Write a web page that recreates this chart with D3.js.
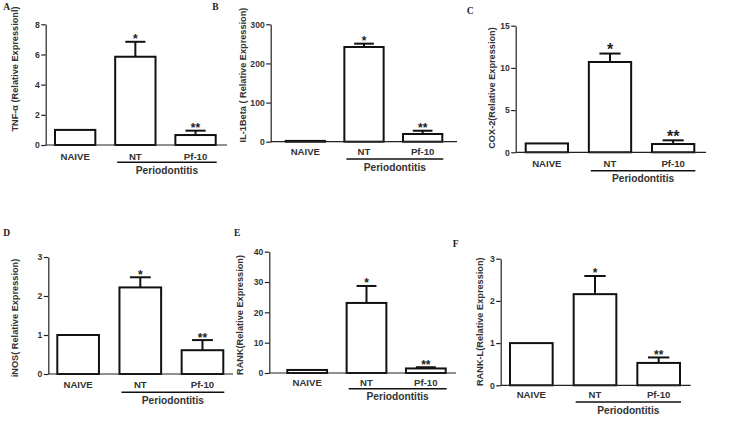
<!DOCTYPE html>
<html>
<head>
<meta charset="utf-8">
<script src="https://cdn.jsdelivr.net/npm/d3@7"></script>
<style>
  html, body { margin: 0; padding: 0; background: #fff; }
  svg { display: block; }
</style>
</head>
<body>
<svg id="chart" width="734" height="424"></svg>
<script>
// ---------- DATA ----------
const categories = ["NAIVE", "NT", "Pf-10"];
const groupLabel = "Periodontitis";
const panelLetters = ["A", "B", "C", "D", "E", "F"];
const yTitles = [
  "TNF-\u03B1 (Relative Expressionl)",
  "IL-1Beta ( Relative Expression)",
  "COX-2(Relative Expression)",
  "iNOS( Relative Expression)",
  "RANK(Relative Expression)",
  "RANK-L(Relative Expression)"
];
const yMaxes = [8, 300, 15, 3, 40, 3];
const yTicks = [
  [0, 2, 4, 6, 8],
  [0, 100, 200, 300],
  [0, 5, 10, 15],
  [0, 1, 2, 3],
  [0, 10, 20, 30, 40],
  [0, 1, 2, 3]
];
const tnfValues   = [1.0, 5.85, 0.66];
const tnfErrors   = [0, 0.99, 0.29];
const il1bValues  = [2, 242, 19.7];
const il1bErrors  = [0, 8.5, 8.3];
const cox2Values  = [1.05, 10.7, 0.98];
const cox2Errors  = [0, 1.0, 0.44];
const inosValues  = [1.0, 2.22, 0.61];
const inosErrors  = [0, 0.26, 0.26];
const rankValues  = [1.0, 23.1, 1.5];
const rankErrors  = [0, 5.6, 0.4];
const ranklValues = [1.0, 2.16, 0.53];
const ranklErrors = [0, 0.43, 0.13];
const significance = ["", "*", "**"];

const seriesValues = [tnfValues, il1bValues, cox2Values, inosValues, rankValues, ranklValues];
const seriesErrors = [tnfErrors, il1bErrors, cox2Errors, inosErrors, rankErrors, ranklErrors];

// ---------- LAYOUT ----------
const layout = [
  {x0: 45.7, xEnd: 227, b0: 55, b1: 215.7, yTop: 24.3, yBot: 145, titleX: 15, titleY: 69, lx: 3.3, ly: 9.5, star: 12, catOff: 15, grpOff: 17.3},
  {x0: 270.7, xEnd: 457, b0: 285.7, b1: 442.3, yTop: 24.3, yBot: 141.7, titleX: 243, titleY: 75, lx: 212.3, ly: 9.5, star: 12, catOff: 13.5, grpOff: 17.3},
  {x0: 515.7, xEnd: 706, b0: 525.7, b1: 694.3, yTop: 25.7, yBot: 152.3, titleX: 491.7, titleY: 88, lx: 466.7, ly: 13.5, star: 16, catOff: 15, grpOff: 18.4},
  {x0: 48.3, xEnd: 233, b0: 57.3, b1: 223.3, yTop: 257, yBot: 374, titleX: 15, titleY: 318, lx: 3.3, ly: 236, star: 12, catOff: 13.5, grpOff: 18.3},
  {x0: 269.3, xEnd: 456, b0: 287.3, b1: 445.7, yTop: 251.7, yBot: 373, titleX: 240, titleY: 315, lx: 234, ly: 236, star: 12, catOff: 13.2, grpOff: 15.7},
  {x0: 500.7, xEnd: 690.7, b0: 510, b1: 680, yTop: 258.7, yBot: 385.3, titleX: 480, titleY: 321.7, lx: 452.7, ly: 247, star: 12, catOff: 12.8, grpOff: 16.7}
];

const svg = d3.select("#chart");
const SANS = "'Liberation Sans', Arial, Helvetica, sans-serif";
const SERIF = "'Liberation Serif', 'Times New Roman', serif";

layout.forEach((L, i) => {
  const g = svg.append("g");
  const values = seriesValues[i];
  const errors = seriesErrors[i];

  const x = d3.scaleBand().domain(categories).range([L.b0, L.b1]).paddingInner(0.33).paddingOuter(0);
  const y = d3.scaleLinear().domain([0, yMaxes[i]]).range([L.yBot, L.yTop]);
  const bw = x.bandwidth();

  g.append("text").attr("x", L.lx).attr("y", L.ly)
    .attr("font-family", SERIF).attr("font-weight", "bold").attr("font-size", 9.5)
    .attr("fill", "#222").text(panelLetters[i]);

  const yAxis = g.append("g").attr("transform", `translate(${L.x0},0)`)
    .call(d3.axisLeft(y).tickValues(yTicks[i]).tickFormat(d3.format("d"))
      .tickSize(4.5).tickSizeOuter(0).tickPadding(1.5));
  yAxis.select(".domain").attr("stroke", "#222").attr("stroke-width", 1.2);
  yAxis.selectAll(".tick line").attr("stroke", "#222").attr("stroke-width", 1.2);
  yAxis.selectAll(".tick text").attr("font-family", SANS).attr("font-weight", "bold")
    .attr("font-size", 8.6).attr("fill", "#333");

  g.append("text")
    .attr("transform", `translate(${L.titleX},${L.titleY}) rotate(-90)`)
    .attr("text-anchor", "middle").attr("dominant-baseline", "central")
    .attr("font-family", SANS).attr("font-weight", "bold").attr("font-size", 9.2)
    .attr("fill", "#333").text(yTitles[i]);

  g.selectAll("rect.bar").data(categories).enter().append("rect")
    .attr("class", "bar")
    .attr("x", c => x(c))
    .attr("y", (c, k) => y(values[k]))
    .attr("width", bw)
    .attr("height", (c, k) => y(0) - y(values[k]))
    .attr("fill", "#fff").attr("stroke", "#111").attr("stroke-width", 2);

  categories.forEach((c, k) => {
    if (!errors[k]) return;
    const cx = x(c) + bw / 2;
    g.append("line").attr("x1", cx).attr("x2", cx)
      .attr("y1", y(values[k])).attr("y2", y(values[k] + errors[k]))
      .attr("stroke", "#111").attr("stroke-width", 2);
    g.append("line").attr("x1", cx - bw / 4).attr("x2", cx + bw / 4)
      .attr("y1", y(values[k] + errors[k])).attr("y2", y(values[k] + errors[k]))
      .attr("stroke", "#111").attr("stroke-width", 2);
  });

  categories.forEach((c, k) => {
    if (!significance[k]) return;
    g.append("text").attr("x", x(c) + bw / 2).attr("y", y(values[k] + errors[k]) + L.star * 0.12)
      .attr("text-anchor", "middle").attr("font-family", SANS).attr("font-weight", "bold")
      .attr("font-size", L.star).attr("fill", "#222").text(significance[k]);
  });

  g.append("line").attr("x1", L.x0).attr("x2", L.xEnd).attr("y1", y(0)).attr("y2", y(0))
    .attr("stroke", "#222").attr("stroke-width", 1.2);

  g.selectAll("text.cat").data(categories).enter().append("text")
    .attr("class", "cat")
    .attr("x", c => x(c) + bw / 2).attr("y", y(0) + L.catOff)
    .attr("text-anchor", "middle").attr("font-family", SANS).attr("font-weight", "bold")
    .attr("font-size", 9.6).attr("fill", "#333").text(c => c);

  const gx1 = x("NT") + 2, gx2 = x("Pf-10") + bw + 1;
  const gy = y(0) + L.grpOff;
  g.append("line").attr("x1", gx1).attr("x2", gx2).attr("y1", gy).attr("y2", gy)
    .attr("stroke", "#111").attr("stroke-width", 1.6);
  g.append("text").attr("x", (gx1 + gx2) / 2).attr("y", gy + 11.5)
    .attr("text-anchor", "middle").attr("font-family", SANS).attr("font-weight", "bold")
    .attr("font-size", 10.2).attr("fill", "#333").text(groupLabel);
});
</script>
</body>
</html>
